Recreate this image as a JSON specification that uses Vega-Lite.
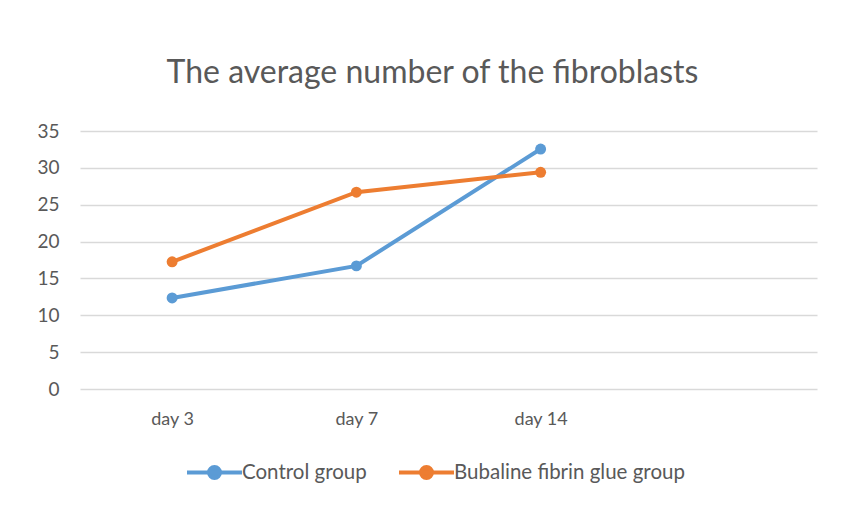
{
  "$schema": "https://vega.github.io/schema/vega-lite/v6.json",
  "autosize": "none",
  "width": 737,
  "height": 258,
  "padding": {"left": 80, "top": 131, "right": 30, "bottom": 133},
  "background": "white",
  "title": {
    "text": "The average number of the fibroblasts",
    "font": "Lato",
    "fontSize": 32,
    "fontWeight": 400,
    "color": "#595959",
    "anchor": "middle",
    "offset": 32,
    "dx": -16
  },
  "data": {
    "values": [
      {"day": "day 3", "group": "Control group", "value": 12.35},
      {"day": "day 7", "group": "Control group", "value": 16.7},
      {"day": "day 14", "group": "Control group", "value": 32.55},
      {"day": "day 3", "group": "Bubaline fibrin glue group", "value": 17.25},
      {"day": "day 7", "group": "Bubaline fibrin glue group", "value": 26.7},
      {"day": "day 14", "group": "Bubaline fibrin glue group", "value": 29.4}
    ]
  },
  "mark": {"type": "line", "strokeWidth": 4, "point": {"size": 120, "filled": true}},
  "encoding": {
    "x": {
      "field": "day",
      "type": "ordinal",
      "sort": null,
      "title": null,
      "scale": {"type": "point", "domain": ["day 3", "day 7", "day 14", " "], "padding": 0.5},
      "axis": {
        "domain": false,
        "ticks": false,
        "grid": false,
        "labelAngle": 0,
        "labelPadding": 21,
        "labelFont": "Lato",
        "labelFontSize": 18,
        "labelColor": "#595959"
      }
    },
    "y": {
      "field": "value",
      "type": "quantitative",
      "title": null,
      "scale": {"domain": [0, 35], "nice": false},
      "axis": {
        "values": [0, 5, 10, 15, 20, 25, 30, 35],
        "domain": false,
        "ticks": false,
        "grid": true,
        "gridColor": "#d9d9d9",
        "gridWidth": 1.5,
        "labelPadding": 21,
        "labelFont": "Lato",
        "labelFontSize": 19,
        "labelColor": "#595959"
      }
    },
    "color": {
      "field": "group",
      "type": "nominal",
      "scale": {"domain": ["Control group", "Bubaline fibrin glue group"], "range": ["#5B9BD5", "#ED7D31"]},
      "legend": {
        "orient": "none",
        "legendX": 105,
        "legendY": 312,
        "direction": "horizontal",
        "title": null,
        "symbolType": "M-1,0L1,0M-0.2,0a0.2,0.2 0 1,0 0.4,0a0.2,0.2 0 1,0 -0.4,0",
        "symbolSize": 3025,
        "symbolStrokeWidth": 4,
        "labelOffset": -2,
        "labelLimit": 400,
        "columnPadding": 24,
        "labelFont": "Lato",
        "labelFontSize": 20.5,
        "labelColor": "#595959",
        "encode": {"symbols": {"update": {"fill": {"scale": "color", "field": "value"}, "fillOpacity": {"value": 1}}}}
      }
    }
  },
  "config": {"view": {"stroke": null}}
}
